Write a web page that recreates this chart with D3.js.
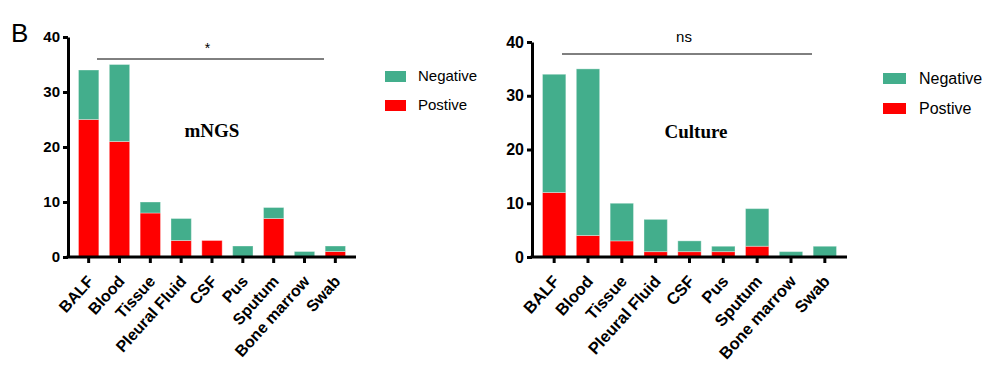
<!DOCTYPE html>
<html>
<head>
<meta charset="utf-8">
<script src="https://cdn.jsdelivr.net/npm/d3@7"></script>
<style>
  body { margin: 0; background: #fff; }
  svg { display: block; }
  .axis path, .axis line { stroke: #000; stroke-width: 3; }
  .axis text { font-family: "Liberation Sans", Arial, sans-serif; font-weight: bold; fill: #000; }
</style>
</head>
<body>
<div class="chart"></div>
<script>
// sample types and counts
var categories = ["BALF", "Blood", "Tissue", "Pleural Fluid", "CSF", "Pus", "Sputum", "Bone marrow", "Swab"];
var mngsPositive = [25, 21, 8, 3, 3, 0, 7, 0, 1];
var mngsNegative = [9, 14, 2, 4, 0, 2, 2, 1, 1];
var culturePositive = [12, 4, 3, 1, 1, 1, 2, 0, 0];
var cultureNegative = [22, 31, 7, 6, 2, 1, 7, 1, 2];
var yTicks = [0, 10, 20, 30, 40];
var seriesKeys = ["Postive", "Negative"];
var colors = { Postive: "#ff0000", Negative: "#43ae8c" };

var svg = d3.select(".chart")
    .append("svg")
    .attr("width", 993)
    .attr("height", 369);

// panel letter
svg.append("text")
    .attr("x", 11)
    .attr("y", 42)
    .attr("font-family", "Liberation Sans, Arial, sans-serif")
    .attr("font-size", 26)
    .text("B");

function drawPanel(p) {
  var rows = categories.map(function (c, i) {
    return { cat: c, Postive: p.pos[i], Negative: p.neg[i] };
  });
  var stacked = d3.stack().keys(seriesKeys)(rows);

  var x = d3.scaleBand()
      .domain(categories)
      .range(p.xRange)
      .padding(p.pad);
  var y = d3.scaleLinear()
      .domain([0, 40])
      .range(p.yRange);

  // bars
  svg.append("g").selectAll("g")
      .data(stacked)
      .enter().append("g")
      .attr("fill", function (d) { return colors[d.key]; })
      .selectAll("rect")
      .data(function (d) { return d; })
      .enter().append("rect")
      .attr("x", function (d) { return x(d.data.cat); })
      .attr("width", x.bandwidth())
      .attr("y", function (d) { return y(d[1]); })
      .attr("height", function (d) { return y(d[0]) - y(d[1]); })
      .attr("stroke", "rgba(255,255,255,0.35)")
      .attr("stroke-width", 1);

  // y axis
  svg.append("g")
      .attr("class", "axis")
      .attr("transform", "translate(" + p.xRange[0] + ",0)")
      .call(d3.axisLeft(y).tickValues(yTicks).tickSize(5).tickSizeOuter(0).tickPadding(3))
      .selectAll("text").attr("font-size", p.tickFont);

  // x axis
  var xAxis = svg.append("g")
      .attr("class", "axis")
      .attr("transform", "translate(0," + p.yRange[0] + ")")
      .call(d3.axisBottom(x).tickSize(6).tickSizeOuter(0));
  xAxis.select(".domain").attr("d", "M" + (p.xRange[0] - 1.5) + ",0H" + p.xRange[1]);
  xAxis.selectAll("text")
      .attr("font-size", p.labelFont)
      .attr("text-anchor", "end")
      .attr("x", 0)
      .attr("y", 0)
      .attr("dy", 0)
      .attr("transform", "translate(6,25) rotate(-48)");

  // significance bracket
  svg.append("line")
      .attr("x1", p.sig.x1).attr("x2", p.sig.x2)
      .attr("y1", p.sig.y).attr("y2", p.sig.y)
      .attr("stroke", "#000").attr("stroke-width", 1);
  svg.append("text")
      .attr("x", (p.sig.x1 + p.sig.x2) / 2 - 3)
      .attr("y", p.sig.ty)
      .attr("text-anchor", "middle")
      .attr("font-family", "Liberation Sans, Arial, sans-serif")
      .attr("font-size", p.sig.size)
      .text(p.sig.label);

  // panel title
  svg.append("text")
      .attr("x", p.title.x)
      .attr("y", p.title.y)
      .attr("text-anchor", "middle")
      .attr("font-family", "Liberation Serif, Times New Roman, serif")
      .attr("font-weight", "bold")
      .attr("font-size", 19)
      .text(p.title.text);

  // legend
  var leg = svg.append("g")
      .attr("transform", "translate(" + p.legend.x + "," + p.legend.y + ")");
  ["Negative", "Postive"].forEach(function (k, i) {
    leg.append("rect")
        .attr("x", 0).attr("y", i * p.legend.gap - 5)
        .attr("width", p.legend.w).attr("height", 11)
        .attr("fill", colors[k]);
    leg.append("text")
        .attr("x", p.legend.tx).attr("y", i * p.legend.gap)
        .attr("dy", "0.35em")
        .attr("font-family", "Liberation Sans, Arial, sans-serif")
        .attr("font-size", p.legend.size)
        .text(k);
  });
}

drawPanel({
  pos: mngsPositive, neg: mngsNegative,
  xRange: [68, 356], yRange: [257, 37], pad: 0.34,
  tickFont: 15, labelFont: 16,
  sig: { x1: 97, x2: 324, y: 59, ty: 53, label: "*", size: 14 },
  title: { text: "mNGS", x: 212, y: 137 },
  legend: { x: 385, y: 76, gap: 29, w: 21, tx: 33, size: 15 }
});

drawPanel({
  pos: culturePositive, neg: cultureNegative,
  xRange: [532, 847], yRange: [257, 42], pad: 0.31,
  tickFont: 16, labelFont: 16.5,
  sig: { x1: 562, x2: 812, y: 54, ty: 42, label: "ns", size: 15 },
  title: { text: "Culture", x: 696, y: 138 },
  legend: { x: 883, y: 78, gap: 30, w: 23, tx: 36, size: 16 }
});
</script>
</body>
</html>
